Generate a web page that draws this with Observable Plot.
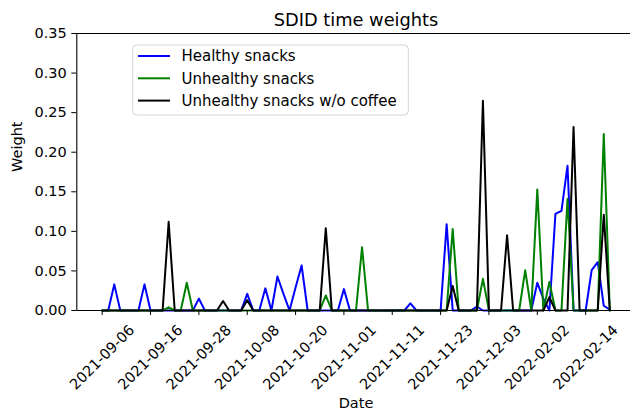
<!DOCTYPE html>
<html><head><meta charset="utf-8">
<script src="https://cdn.jsdelivr.net/npm/d3@7"></script>
<script src="https://cdn.jsdelivr.net/npm/@observablehq/plot@0.6"></script>
<style>
html,body{margin:0;padding:0;background:#fff;}
#chart{width:630px;height:411px;overflow:hidden;}
</style></head><body><div id="chart"></div>
<script>
const tickLabels = ["2021-09-06","2021-09-16","2021-09-28","2021-10-08","2021-10-20","2021-11-01","2021-11-11","2021-11-23","2021-12-03","2022-02-02","2022-02-14"];
const tickStep = 8;
const yTicks = [0, 0.05, 0.10, 0.15, 0.20, 0.25, 0.30, 0.35];
const seriesNames = ["Healthy snacks", "Unhealthy snacks", "Unhealthy snacks w/o coffee"];
const seriesColors = ["blue", "green", "black"];

const healthy = [
  0, 0, 0.033, 0, 0, 0, 0, 0.033, 0, 0,
  0, 0, 0, 0, 0, 0, 0.015, 0, 0, 0,
  0, 0, 0, 0, 0.021, 0, 0, 0.028, 0, 0.043,
  0.021, 0, 0.029, 0.057, 0, 0, 0, 0, 0, 0,
  0.027, 0, 0, 0, 0, 0, 0, 0, 0, 0,
  0, 0.009, 0, 0, 0, 0, 0, 0.109, 0, 0,
  0, 0, 0.005, 0, 0, 0, 0, 0, 0, 0,
  0, 0, 0.035, 0.015, 0, 0.122, 0.126, 0.183, 0, 0,
  0, 0.051, 0.061, 0.006, 0.001
];
const unhealthy = [
  0, 0, 0, 0, 0, 0, 0, 0, 0, 0,
  0, 0.004, 0, 0, 0.035, 0, 0, 0, 0, 0,
  0, 0, 0, 0, 0, 0, 0, 0, 0, 0,
  0, 0, 0, 0, 0, 0, 0, 0.019, 0, 0,
  0, 0, 0, 0.080, 0, 0, 0, 0, 0, 0,
  0, 0, 0, 0, 0, 0, 0, 0, 0.103, 0,
  0, 0, 0, 0.040, 0, 0, 0, 0, 0, 0,
  0.051, 0, 0.153, 0, 0.036, 0, 0, 0.141, 0, 0,
  0, 0, 0, 0.223, 0
];
const noCoffee = [
  0, 0, 0, 0, 0, 0, 0, 0, 0, 0,
  0, 0.112, 0, 0, 0, 0, 0, 0, 0, 0,
  0.012, 0, 0, 0, 0.013, 0, 0, 0, 0, 0,
  0, 0, 0, 0, 0, 0, 0, 0.104, 0, 0,
  0, 0, 0, 0, 0, 0, 0, 0, 0, 0,
  0, 0, 0, 0, 0, 0, 0, 0, 0.031, 0,
  0, 0, 0, 0.265, 0, 0, 0, 0.095, 0, 0,
  0, 0, 0, 0, 0.017, 0, 0, 0, 0.232, 0,
  0, 0, 0, 0.121, 0
];

const series = [healthy, unhealthy, noCoffee];
const n = healthy.length;
const pad = 0.05 * (n - 1);
const xDomain = [-pad, n - 1 + pad];
const font = "'DejaVu Sans', sans-serif";
const ticks = tickLabels.map((label, k) => ({i: k * tickStep, label}));

const plot = Plot.plot({
  width: 630, height: 411,
  marginTop: 33, marginBottom: 101, marginLeft: 76.3, marginRight: -4.7,
  style: {fontFamily: font, fontSize: "14.5px", background: "#fff", color: "#000", overflow: "hidden"},
  x: {domain: xDomain, label: null},
  y: {domain: [0, 0.35], label: null},
  marks: [
    ...series.map((s, k) => Plot.lineY(s, {x: (d, i) => i, y: d => d, stroke: seriesColors[k], strokeWidth: 2})),
    Plot.ruleY([0, 0.35], {stroke: "#000", strokeWidth: 1.1}),
    Plot.ruleX([xDomain[0]], {stroke: "#000", strokeWidth: 1.1}),
    Plot.axisY({ticks: yTicks, tickFormat: d3.format(".2f"), tickSize: 5, tickPadding: 5, label: null}),
    Plot.axisX({ticks: ticks.map(t => t.i), tickSize: 5, tickFormat: () => "", label: null}),
    Plot.text(ticks, {x: "i", text: "label", frameAnchor: "bottom", dy: 47, rotate: -45, textAnchor: "middle", lineAnchor: "middle", fill: "#000"}),
    Plot.text(["SDID time weights"], {frameAnchor: "top", dy: -20, fontSize: 17.8, fill: "#000"}),
    Plot.text(["Weight"], {frameAnchor: "left", dx: -59, rotate: -90, fill: "#000"}),
    Plot.text(["Date"], {frameAnchor: "bottom", dy: 97, fill: "#000"})
  ]
});

const svg = d3.select(plot);
const lg = svg.append("g").attr("font-family", font).attr("font-size", 15).attr("text-anchor", "start");
lg.append("rect").attr("x", 132.7).attr("y", 45).attr("width", 275.6).attr("height", 70)
  .attr("rx", 4).attr("fill", "#fff").attr("fill-opacity", 0.8).attr("stroke", "#d4d4d4");
seriesNames.forEach((name, k) => {
  const cy = 56 + k * 22.3;
  lg.append("line").attr("x1", 138).attr("x2", 170).attr("y1", cy).attr("y2", cy)
    .attr("stroke", seriesColors[k]).attr("stroke-width", 2);
  lg.append("text").attr("x", 181.5).attr("y", cy).attr("dy", "0.35em").attr("text-anchor", "start").attr("fill", "#000").text(name);
});

document.getElementById("chart").appendChild(plot);
</script>
</body></html>
